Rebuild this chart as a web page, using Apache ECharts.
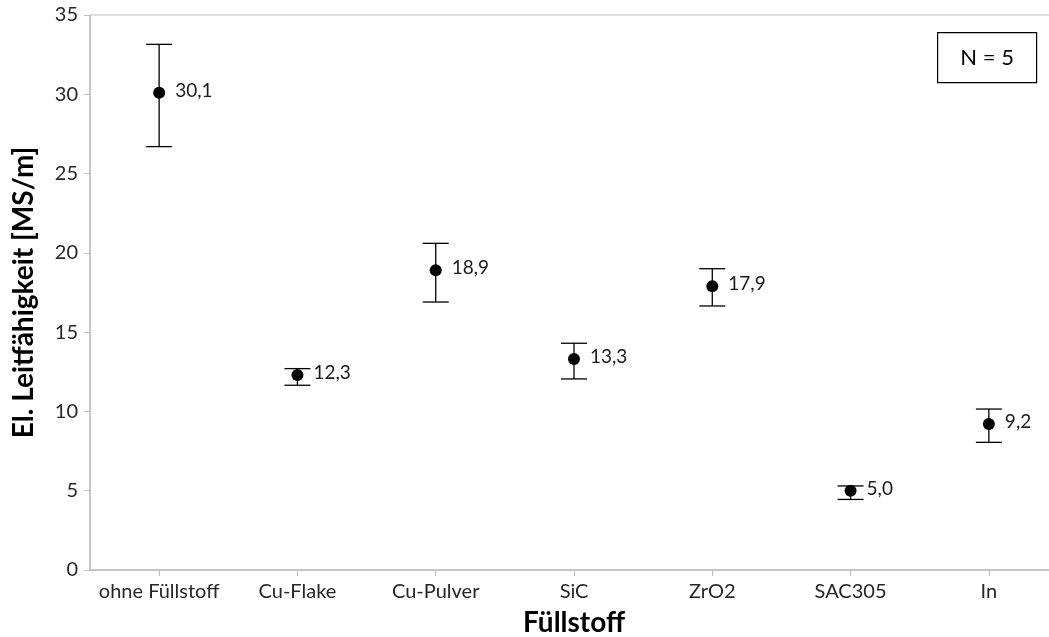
<!DOCTYPE html>
<html>
<head>
<meta charset="utf-8">
<script src="https://cdn.jsdelivr.net/npm/echarts@6/dist/echarts.min.js"></script>
<style>
  html, body { margin: 0; padding: 0; background: #fff; }
  #chart { width: 1049px; height: 637px; }
</style>
</head>
<body>
<div id="chart"></div>
<script>
// Elektrische Leitfähigkeit je Füllstoff (Mittelwert mit Streuung, N = 5)
const categories = ['ohne Füllstoff', 'Cu-Flake', 'Cu-Pulver', 'SiC', 'ZrO2', 'SAC305', 'In'];
const means      = [30.1, 12.3, 18.9, 13.3, 17.9, 5.0, 9.2];
const lowerBound = [26.7, 11.65, 16.9, 12.05, 16.65, 4.45, 8.05];
const upperBound = [33.15, 12.7, 20.6, 14.3, 19.0, 5.3, 10.15];
const yTicks     = [0, 5, 10, 15, 20, 25, 30, 35];

const font = 'Lato, "Open Sans", sans-serif';
const chart = echarts.init(document.getElementById('chart'), null, { renderer: 'canvas' });

const errorData = categories.map((c, i) => [i, lowerBound[i], upperBound[i]]);
const pointData = categories.map((c, i) => [i, means[i]]);

chart.setOption({
  animation: false,
  backgroundColor: '#ffffff',
  grid: {
    left: 90, top: 15, width: 968, height: 555,
    containLabel: false,
    outerBoundsMode: 'none',
    show: true, borderColor: '#bfbfbf', borderWidth: 1, backgroundColor: 'transparent'
  },
  xAxis: {
    type: 'category',
    data: categories,
    boundaryGap: true,
    name: 'Füllstoff',
    nameLocation: 'middle',
    nameGap: 39,
    nameTextStyle: { fontFamily: font, fontSize: 28, fontWeight: 'bold', color: '#000' },
    axisLine: { lineStyle: { color: '#bfbfbf', width: 1.5 } },
    axisTick: { show: true, alignWithLabel: true, length: 6, lineStyle: { color: '#bfbfbf' } },
    axisLabel: { interval: 0, fontFamily: font, fontSize: 20, color: '#262626', margin: 12 },
    splitLine: { show: false }
  },
  yAxis: {
    type: 'value',
    min: yTicks[0],
    max: yTicks[yTicks.length - 1],
    interval: 5,
    name: 'El. Leitfähigkeit [MS/m]',
    nameLocation: 'middle',
    nameGap: 52,
    nameTextStyle: { fontFamily: font, fontSize: 28, fontWeight: 'bold', color: '#000' },
    axisLine: { show: true, lineStyle: { color: '#bfbfbf', width: 1.5 } },
    axisTick: { show: true, length: 6, lineStyle: { color: '#bfbfbf' } },
    axisLabel: { fontFamily: font, fontSize: 20, color: '#262626', margin: 12 },
    splitLine: { show: false }
  },
  series: [
    {
      type: 'custom',
      data: errorData,
      z: 2,
      renderItem: function (params, api) {
        const x = api.value(0);
        const lo = api.coord([x, api.value(1)]);
        const hi = api.coord([x, api.value(2)]);
        const half = 13;
        const style = { stroke: '#000', lineWidth: 1.3 };
        return {
          type: 'group',
          children: [
            { type: 'line', shape: { x1: hi[0], y1: hi[1], x2: lo[0], y2: lo[1] }, style: style },
            { type: 'line', shape: { x1: hi[0] - half, y1: hi[1], x2: hi[0] + half, y2: hi[1] }, style: style },
            { type: 'line', shape: { x1: lo[0] - half, y1: lo[1], x2: lo[0] + half, y2: lo[1] }, style: style }
          ]
        };
      }
    },
    {
      type: 'scatter',
      data: pointData,
      symbol: 'circle',
      symbolSize: 12,
      z: 3,
      itemStyle: { color: '#000', opacity: 1 },
      label: {
        show: true,
        position: 'right',
        distance: 10,
        offset: [0, -2],
        fontFamily: font,
        fontSize: 19,
        color: '#1a1a1a',
        formatter: p => p.value[1].toFixed(1).replace('.', ',')
      }
    }
  ],
  graphic: [
    {
      type: 'group',
      left: 937, top: 32,
      children: [
        { type: 'rect', shape: { x: 0, y: 0, width: 99, height: 50 },
          style: { fill: '#fff', stroke: '#000', lineWidth: 1.2 } },
        { type: 'text', x: 49.5, y: 25,
          style: { text: 'N = 5', fontFamily: font, fontSize: 22, fill: '#000',
                   align: 'center', verticalAlign: 'middle' } }
      ]
    }
  ]
});
</script>
</body>
</html>
